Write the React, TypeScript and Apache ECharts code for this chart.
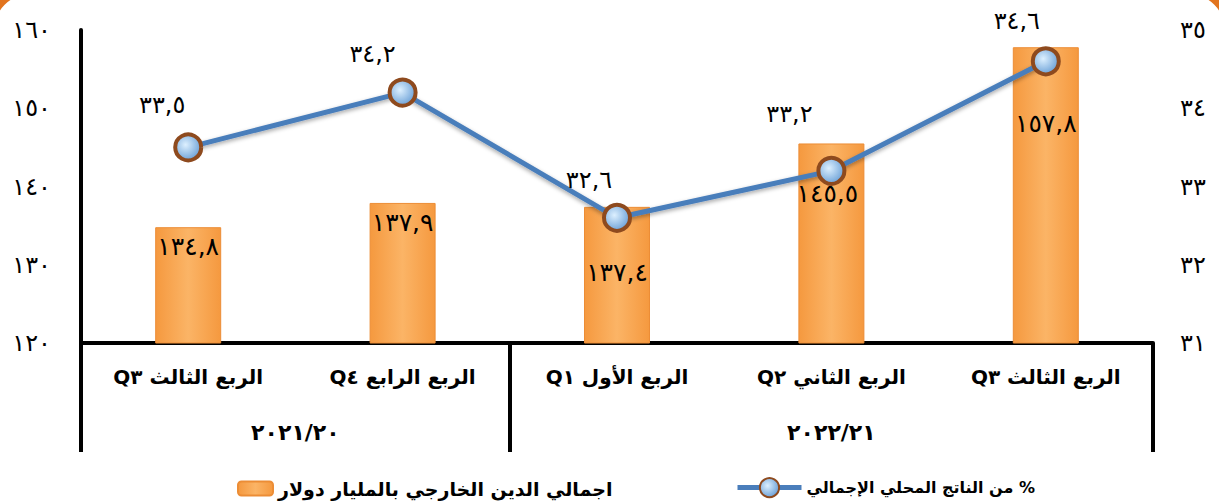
import React, { useEffect, useRef } from "react";
import * as echarts from "echarts";

// ---- data ----
const categories = [
  "الربع الثالث Q٣",
  "الربع الرابع Q٤",
  "الربع الأول Q١",
  "الربع الثاني Q٢",
  "الربع الثالث Q٣",
];
const groupLabels = ["٢٠٢١/٢٠", "٢٠٢٢/٢١"];
const groupSizes = [2, 3];
const debtValues = [134.8, 137.9, 137.4, 145.5, 157.8];
const gdpPctValues = [33.5, 34.2, 32.6, 33.2, 34.6];
const debtName = "اجمالي الدين الخارجي بالمليار دولار";
const gdpName = "% من الناتج المحلي الإجمالي";

// ---- label styling (offsets only) ----
const barLabelOffsets = [[0, 2], [0, 2], [0, 48], [-4, 33], [0, 59]];
const lineLabelOffsets = [[-26, -10], [-30, -7], [-28, -6], [-42, -25], [-29, -8]];

const AR_DIGITS = "٠١٢٣٤٥٦٧٨٩";
const toAr = (s: string) => s.replace(/[0-9]/g, (d) => AR_DIGITS[+d]);
const fmt1 = (v: number) => toAr(v.toFixed(1).replace(".", ","));
const rtl = (s: string) => "\u202B" + s + "\u202C";

const FONT = "DejaVu Sans";

export default function App() {
  const ref = useRef<HTMLDivElement>(null);
  useEffect(() => {
    document.body.style.margin = "0";
    const chart = echarts.init(ref.current!, null, { renderer: "svg" });

    const bounds: number[] = [0];
    const centers: number[] = [];
    groupSizes.forEach((g) => {
      const start = bounds[bounds.length - 1];
      centers.push(start + g / 2);
      bounds.push(start + g);
    });

    const barGrad = new echarts.graphic.LinearGradient(0, 0, 1, 0, [
      { offset: 0, color: "#F5993F" },
      { offset: 0.5, color: "#FBB466" },
      { offset: 1, color: "#F5993F" },
    ]);
    const markerGrad = new echarts.graphic.RadialGradient(0.4, 0.4, 0.6, [
      { offset: 0, color: "#DDF0FF" },
      { offset: 1, color: "#6FA3D8" },
    ]);

    chart.setOption({
      animation: false,
      backgroundColor: "#ffffff",
      textStyle: { fontFamily: FONT },
      grid: { left: 81, right: 66, top: 30, bottom: 159 },
      graphic: [
        {
          type: "rect",
          shape: { x: -12, y: -12, width: 1243, height: 620, r: 40 },
          style: { fill: "none", stroke: "#E2741E", lineWidth: 14 },
          silent: true,
          z: 100,
        },
      ],
      legend: [
        {
          data: [debtName],
          left: 237,
          top: 479,
          itemWidth: 35,
          itemHeight: 14,
          itemGap: 6,
          padding: 0,
          textStyle: { fontFamily: FONT, fontSize: 19, fontWeight: "bold", color: "#000" },
        },
        {
          data: [gdpName],
          left: 735,
          top: 477,
          itemWidth: 64,
          itemHeight: 24,
          itemGap: 4,
          padding: 0,
          lineStyle: { width: 5 },
          formatter: (n: string) => rtl(n),
          textStyle: { fontFamily: FONT, fontSize: 16, fontWeight: "bold", color: "#000" },
        },
      ],
      xAxis: [
        {
          type: "category",
          data: categories,
          axisLine: { show: true, lineStyle: { color: "#000", width: 4 } },
          axisTick: { show: false },
          axisLabel: {
            margin: 24,
            fontFamily: FONT,
            fontSize: 20,
            fontWeight: "bold",
            color: "#000",
            formatter: (v: string) => rtl(v),
          },
          splitLine: { show: false },
        },
        {
          type: "value",
          position: "bottom",
          min: 0,
          max: categories.length,
          axisLine: { show: false },
          splitLine: { show: false },
          axisTick: {
            show: true,
            customValues: bounds,
            length: 109,
            lineStyle: { color: "#000", width: 4 },
          },
          axisLabel: {
            customValues: centers,
            margin: 78,
            fontFamily: FONT,
            fontSize: 22,
            fontWeight: "bold",
            color: "#000",
            formatter: (v: number) => groupLabels[centers.indexOf(v)] ?? "",
          },
        },
      ],
      yAxis: [
        {
          type: "value",
          min: 120,
          max: 160,
          interval: 10,
          axisLine: { show: true, lineStyle: { color: "#000", width: 4 } },
          axisTick: { show: false },
          splitLine: { show: false },
          axisLabel: {
            margin: 30,
            fontFamily: FONT,
            fontSize: 24,
            color: "#000",
            formatter: (v: number) => toAr(String(v)),
          },
        },
        {
          type: "value",
          min: 31,
          max: 35,
          interval: 1,
          position: "right",
          axisLine: { show: false },
          axisTick: { show: false },
          splitLine: { show: false },
          axisLabel: {
            margin: 27,
            fontFamily: FONT,
            fontSize: 24,
            color: "#000",
            formatter: (v: number) => toAr(String(v)),
          },
        },
      ],
      series: [
        {
          name: debtName,
          type: "bar",
          xAxisIndex: 0,
          yAxisIndex: 0,
          barWidth: 66,
          data: debtValues.map((v, i) => ({
            value: v,
            label: { offset: barLabelOffsets[i] },
          })),
          itemStyle: {
            color: barGrad,
            borderColor: "#EC8D36",
            borderWidth: 1,
          },
          label: {
            show: true,
            position: "insideTop",
            distance: 5,
            fontFamily: FONT,
            fontSize: 25,
            color: "#000",
            formatter: (p: any) => fmt1(p.value),
          },
          z: 2,
        },
        {
          name: gdpName,
          type: "line",
          xAxisIndex: 0,
          yAxisIndex: 1,
          data: gdpPctValues.map((v, i) => ({
            value: v,
            label: { offset: lineLabelOffsets[i] },
          })),
          symbol: "circle",
          symbolSize: 26,
          lineStyle: {
            color: "#4A7EBB",
            width: 5,
            shadowColor: "rgba(0,0,0,0.35)",
            shadowBlur: 4,
            shadowOffsetY: 2,
          },
          itemStyle: {
            color: markerGrad,
            borderColor: "#8E4A1E",
            borderWidth: 4,
          },
          label: {
            show: true,
            position: "top",
            distance: 5,
            fontFamily: FONT,
            fontSize: 24,
            color: "#000",
            formatter: (p: any) => fmt1(p.value),
          },
          z: 5,
        },
      ],
    });
    return () => chart.dispose();
  }, []);
  return (
    <div
      ref={ref}
      style={{ position: "fixed", left: 0, top: 0, width: 1219, height: 502 }}
    />
  );
}
